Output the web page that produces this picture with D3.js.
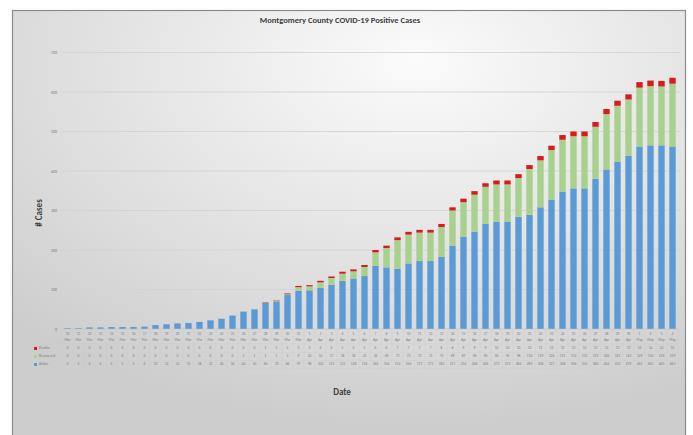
<!DOCTYPE html>
<html>
<head>
<meta charset="utf-8">
<script src="https://cdn.jsdelivr.net/npm/d3@7"></script>
<style>
  body { margin: 0; background: #fff; }
  #container { width: 693px; height: 435px; }
  text { font-family: Calibri, "Liberation Sans", "Open Sans", sans-serif; }
</style>
</head>
<body>
<div id="container"></div>
<script>
// one entry per day, 10 Mar .. 4 May
let days = [10, 11, 12, 13, 14, 15, 16, 17, 18, 19, 20, 21, 22, 23, 24, 25, 26, 27, 28, 29, 30, 31,
  1, 2, 3, 4, 5, 6, 7, 8, 9, 10, 11, 12, 13, 14, 15, 16, 17, 18, 19, 20, 21, 22, 23, 24, 25, 26, 27, 28, 29, 30,
  1, 2, 3, 4];
let months = [
  "Mar", "Mar", "Mar", "Mar", "Mar", "Mar", "Mar", "Mar", "Mar", "Mar", "Mar", "Mar", "Mar", "Mar", "Mar", "Mar",
  "Mar", "Mar", "Mar", "Mar", "Mar", "Mar",
  "Apr", "Apr", "Apr", "Apr", "Apr", "Apr", "Apr", "Apr", "Apr", "Apr", "Apr", "Apr", "Apr", "Apr", "Apr", "Apr",
  "Apr", "Apr", "Apr", "Apr", "Apr", "Apr", "Apr", "Apr", "Apr", "Apr", "Apr", "Apr", "Apr", "Apr",
  "May", "May", "May", "May"];

let active = [2, 2, 4, 4, 5, 5, 5, 6, 10, 12, 14, 15, 18, 22, 26, 34, 44, 50, 66, 70, 86, 97,
  98, 104, 112, 122, 128, 134, 160, 156, 152, 166, 172, 172, 183, 211, 234, 246, 266, 272, 272, 284, 289, 308,
  327, 348, 356, 356, 380, 404, 424, 439, 462, 465, 465, 462];
let recovered = [0, 0, 0, 0, 0, 0, 0, 0, 0, 0, 0, 0, 0, 0, 0, 0, 1, 1, 1, 1, 2, 9,
  10, 14, 17, 18, 18, 23, 34, 49, 73, 73, 72, 72, 75, 89, 87, 94, 94, 94, 94, 98, 116, 119,
  126, 131, 132, 132, 132, 140, 141, 142, 149, 150, 149, 159];
let deaths = [0, 0, 0, 0, 0, 0, 0, 0, 0, 0, 0, 0, 0, 0, 0, 0, 0, 0, 1, 1, 2, 3,
  3, 4, 4, 5, 5, 5, 6, 6, 7, 7, 7, 7, 8, 8, 9, 9, 9, 10, 10, 10, 10, 11,
  11, 12, 12, 12, 12, 13, 13, 13, 14, 14, 14, 15];

let yTicks = [0, 100, 200, 300, 400, 500, 600, 700];

let seriesNames = ["Deaths", "Recovered", "Active"];
let seriesColors = { Active: "#5b9bd5", Recovered: "#a9d18e", Deaths: "#d81c1c" };

let W = 693, H = 435;
let svg = d3.select("#container").append("svg").attr("width", W).attr("height", H);

// background panel with soft radial shading like the Excel style
let defs = svg.append("defs");
let grad = defs.append("radialGradient").attr("id", "bg")
  .attr("cx", "0.6").attr("cy", "0.12").attr("r", "0.85");
grad.append("stop").attr("offset", "0").attr("stop-color", "#fbfbfb");
grad.append("stop").attr("offset", "0.35").attr("stop-color", "#ebebeb");
grad.append("stop").attr("offset", "0.75").attr("stop-color", "#d9d9d9");
grad.append("stop").attr("offset", "1").attr("stop-color", "#cdcdcd");

svg.append("rect")
  .attr("x", 12.5).attr("y", 10.5)
  .attr("width", 673).attr("height", 430)
  .attr("fill", "url(#bg)")
  .attr("stroke", "#8c8c8c")
  .attr("stroke-width", 1.2);

let x = d3.scaleBand()
  .domain(d3.range(days.length))
  .range([62, 678])
  .paddingInner(0.42)
  .paddingOuter(0.21);

let y = d3.scaleLinear().domain([0, 700]).range([329, 52.5]);

// gridlines
svg.append("g")
  .selectAll("line")
  .data(yTicks.slice(1))
  .join("line")
  .attr("x1", 62).attr("x2", 680)
  .attr("y1", d => y(d)).attr("y2", d => y(d))
  .attr("stroke", "#d2d2d2")
  .attr("stroke-width", 0.8);

// y axis labels
let yAxis = d3.axisLeft(y).tickValues(yTicks).tickSize(0).tickPadding(0);
let yg = svg.append("g").attr("transform", "translate(57,0)").call(yAxis);
yg.select(".domain").remove();
yg.selectAll("text")
  .attr("fill", "#7f7f7f")
  .style("font-size", "4px");

// stacked bars: Active bottom, Recovered, Deaths on top
let rows = days.map((d, i) => ({ i: i, Active: active[i], Recovered: recovered[i], Deaths: deaths[i] }));
let stack = d3.stack().keys(["Active", "Recovered", "Deaths"])(rows);

svg.append("g")
  .selectAll("g")
  .data(stack)
  .join("g")
  .attr("fill", d => seriesColors[d.key])
  .selectAll("rect")
  .data(d => d)
  .join("rect")
  .attr("x", d => x(d.data.i))
  .attr("width", x.bandwidth())
  .attr("y", d => y(d[1]))
  .attr("height", d => Math.max(0, y(d[0]) - y(d[1])));

// x axis line
svg.append("line")
  .attr("x1", 62).attr("x2", 678)
  .attr("y1", y(0)).attr("y2", y(0))
  .attr("stroke", "#bfbfbf")
  .attr("stroke-width", 0.6);

// data table under the chart
let rowY = [334.5, 340, 348.5, 356.5, 364.5];
let tableTop = 330.5, tableBottom = 368.5;
let tg = svg.append("g");

tg.selectAll(".vline")
  .data(d3.range(days.length + 1))
  .join("line")
  .attr("class", "vline")
  .attr("x1", i => 62 + i * x.step()).attr("x2", i => 62 + i * x.step())
  .attr("y1", tableTop).attr("y2", tableBottom)
  .attr("stroke", "#cdcdcd")
  .attr("stroke-width", 0.4);

tg.selectAll(".hline")
  .data([344, 352.5, 360.5, tableBottom])
  .join("line")
  .attr("class", "hline")
  .attr("x1", 33).attr("x2", 678)
  .attr("y1", d => d).attr("y2", d => d)
  .attr("stroke", "#cdcdcd")
  .attr("stroke-width", 0.4);

let cellText = (arr, yy) => {
  tg.append("g")
    .selectAll("text")
    .data(arr)
    .join("text")
    .attr("x", (d, i) => x(i) + x.bandwidth() / 2)
    .attr("y", yy)
    .attr("text-anchor", "middle")
    .attr("dominant-baseline", "middle")
    .attr("fill", "#808080")
    .style("font-size", "3.6px")
    .text(d => d);
};
cellText(days, rowY[0]);
cellText(months, rowY[1]);
cellText(deaths, rowY[2]);
cellText(recovered, rowY[3]);
cellText(active, rowY[4]);

// legend keys in table
let keys = tg.append("g")
  .selectAll("g")
  .data(seriesNames)
  .join("g")
  .attr("transform", (d, i) => `translate(34,${rowY[i + 2]})`);
keys.append("rect")
  .attr("x", 0).attr("y", -1.5)
  .attr("width", 3).attr("height", 3)
  .attr("fill", d => seriesColors[d]);
keys.append("text")
  .attr("x", 5)
  .attr("dominant-baseline", "middle")
  .attr("fill", "#808080")
  .style("font-size", "3.8px")
  .text(d => d);

// titles
svg.append("text")
  .attr("x", 340).attr("y", 23)
  .attr("text-anchor", "middle")
  .attr("fill", "#404040")
  .style("font-size", "8.5px")
  .style("font-weight", "bold")
  .text("Montgomery County COVID-19 Positive Cases");

svg.append("text")
  .attr("transform", "translate(42,213) rotate(-90)")
  .attr("text-anchor", "middle")
  .attr("fill", "#404040")
  .style("font-size", "9px")
  .style("font-weight", "bold")
  .text("# Cases");

svg.append("text")
  .attr("x", 342).attr("y", 395)
  .attr("text-anchor", "middle")
  .attr("fill", "#404040")
  .style("font-size", "9px")
  .style("font-weight", "bold")
  .text("Date");
</script>
</body>
</html>
